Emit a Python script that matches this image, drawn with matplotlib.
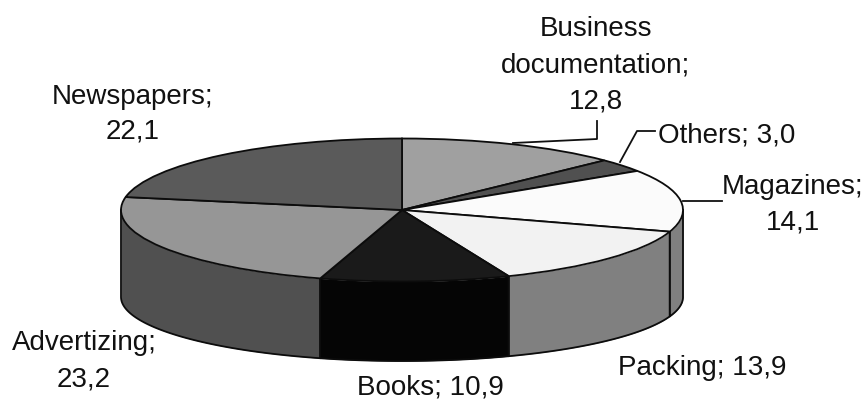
import numpy as np
import matplotlib
matplotlib.use('Agg')
import matplotlib.pyplot as plt
from matplotlib.lines import Line2D

plt.rcParams['font.family'] = ['Liberation Sans', 'DejaVu Sans']

# dati, in senso orario da ore 12
categories = ['Business documentation', 'Others', 'Magazines', 'Packing', 'Books', 'Advertizing', 'Newspapers']
values = [12.8, 3.0, 14.1, 13.9, 10.9, 23.2, 22.1]
value_labels = ['12,8', '3,0', '14,1', '13,9', '10,9', '23,2', '22,1']

top_colors = ['#a0a0a0', '#505050', '#fbfbfb', '#f2f2f2', '#1a1a1a', '#969696', '#5a5a5a']
side_colors = ['#808080', '#303030', '#808080', '#808080', '#050505', '#505050', '#3a3a3a']

W, H = 864, 401
cx, cy = 402, 210
rx, ry = 281, 71.5
# l'ellisse di base nel riferimento e' un po' piu' piatta di quella sopra
drop = 87 / ry
squash = 64 / ry
edge = '#0c0c0c'
lw = 1.3

fig = plt.figure(figsize=(W / 100, H / 100), dpi=100)
ax = fig.add_axes([0, 0, 1, 1])

# torta schiacciata: gli assi hanno scala diversa in x e y
ax.pie(values, startangle=90, counterclock=False, colors=top_colors,
       wedgeprops={'edgecolor': edge, 'linewidth': lw, 'zorder': 3})
ax.set_aspect('auto')
ax.set_xlim(-cx / rx, (W - cx) / rx)
ax.set_ylim(-(H - cy) / ry, cy / ry)
ax.set_axis_off()

# fianchi: solo la parte della fetta sul davanti (90-270 gradi)
shares = np.array(values) / np.sum(values) * 360
ends = np.cumsum(shares)
starts = ends - shares
for a0, a1, c in zip(starts, ends, side_colors):
    lo, hi = max(a0, 90), min(a1, 270)
    if lo >= hi:
        continue
    t = np.radians(np.linspace(lo, hi, 60))
    x = np.sin(t)
    y = np.cos(t)
    y_low = np.cos(t) * squash - drop
    ax.fill_between(x, y, y_low, color=c, linewidth=0, zorder=1)
    ax.plot(np.r_[x[0], x, x[-1]], np.r_[y[0], y_low, y[-1]],
            color=edge, lw=lw, zorder=2)


def label(x, y, s, ha='center'):
    fig.text(x / W, 1 - (y + 2) / H, s, fontsize=20, ha=ha, va='center', color='#111111')


def leader(xs, ys):
    fig.add_artist(Line2D([v / W for v in xs], [1 - v / H for v in ys],
                          color='#111111', lw=lw, transform=fig.transFigure))


label(596, 27, 'Business')
label(596, 64, 'documentation;')
label(596, 100, value_labels[0])
label(727, 133, categories[1] + '; ' + value_labels[1])
label(793, 185, categories[2] + ';')
label(793, 220, value_labels[2])
label(702, 366, categories[3] + '; ' + value_labels[3])
label(430, 386, categories[4] + '; ' + value_labels[4])
label(84, 341, categories[5] + ';')
label(84, 377, value_labels[5])
label(133, 95, categories[6] + ';')
label(133, 130, value_labels[6])

leader([513, 597, 597], [143, 139, 121])
leader([620, 637, 655], [162, 131, 131])
leader([683, 722], [201, 201])

fig.savefig('out.png', dpi=100)
